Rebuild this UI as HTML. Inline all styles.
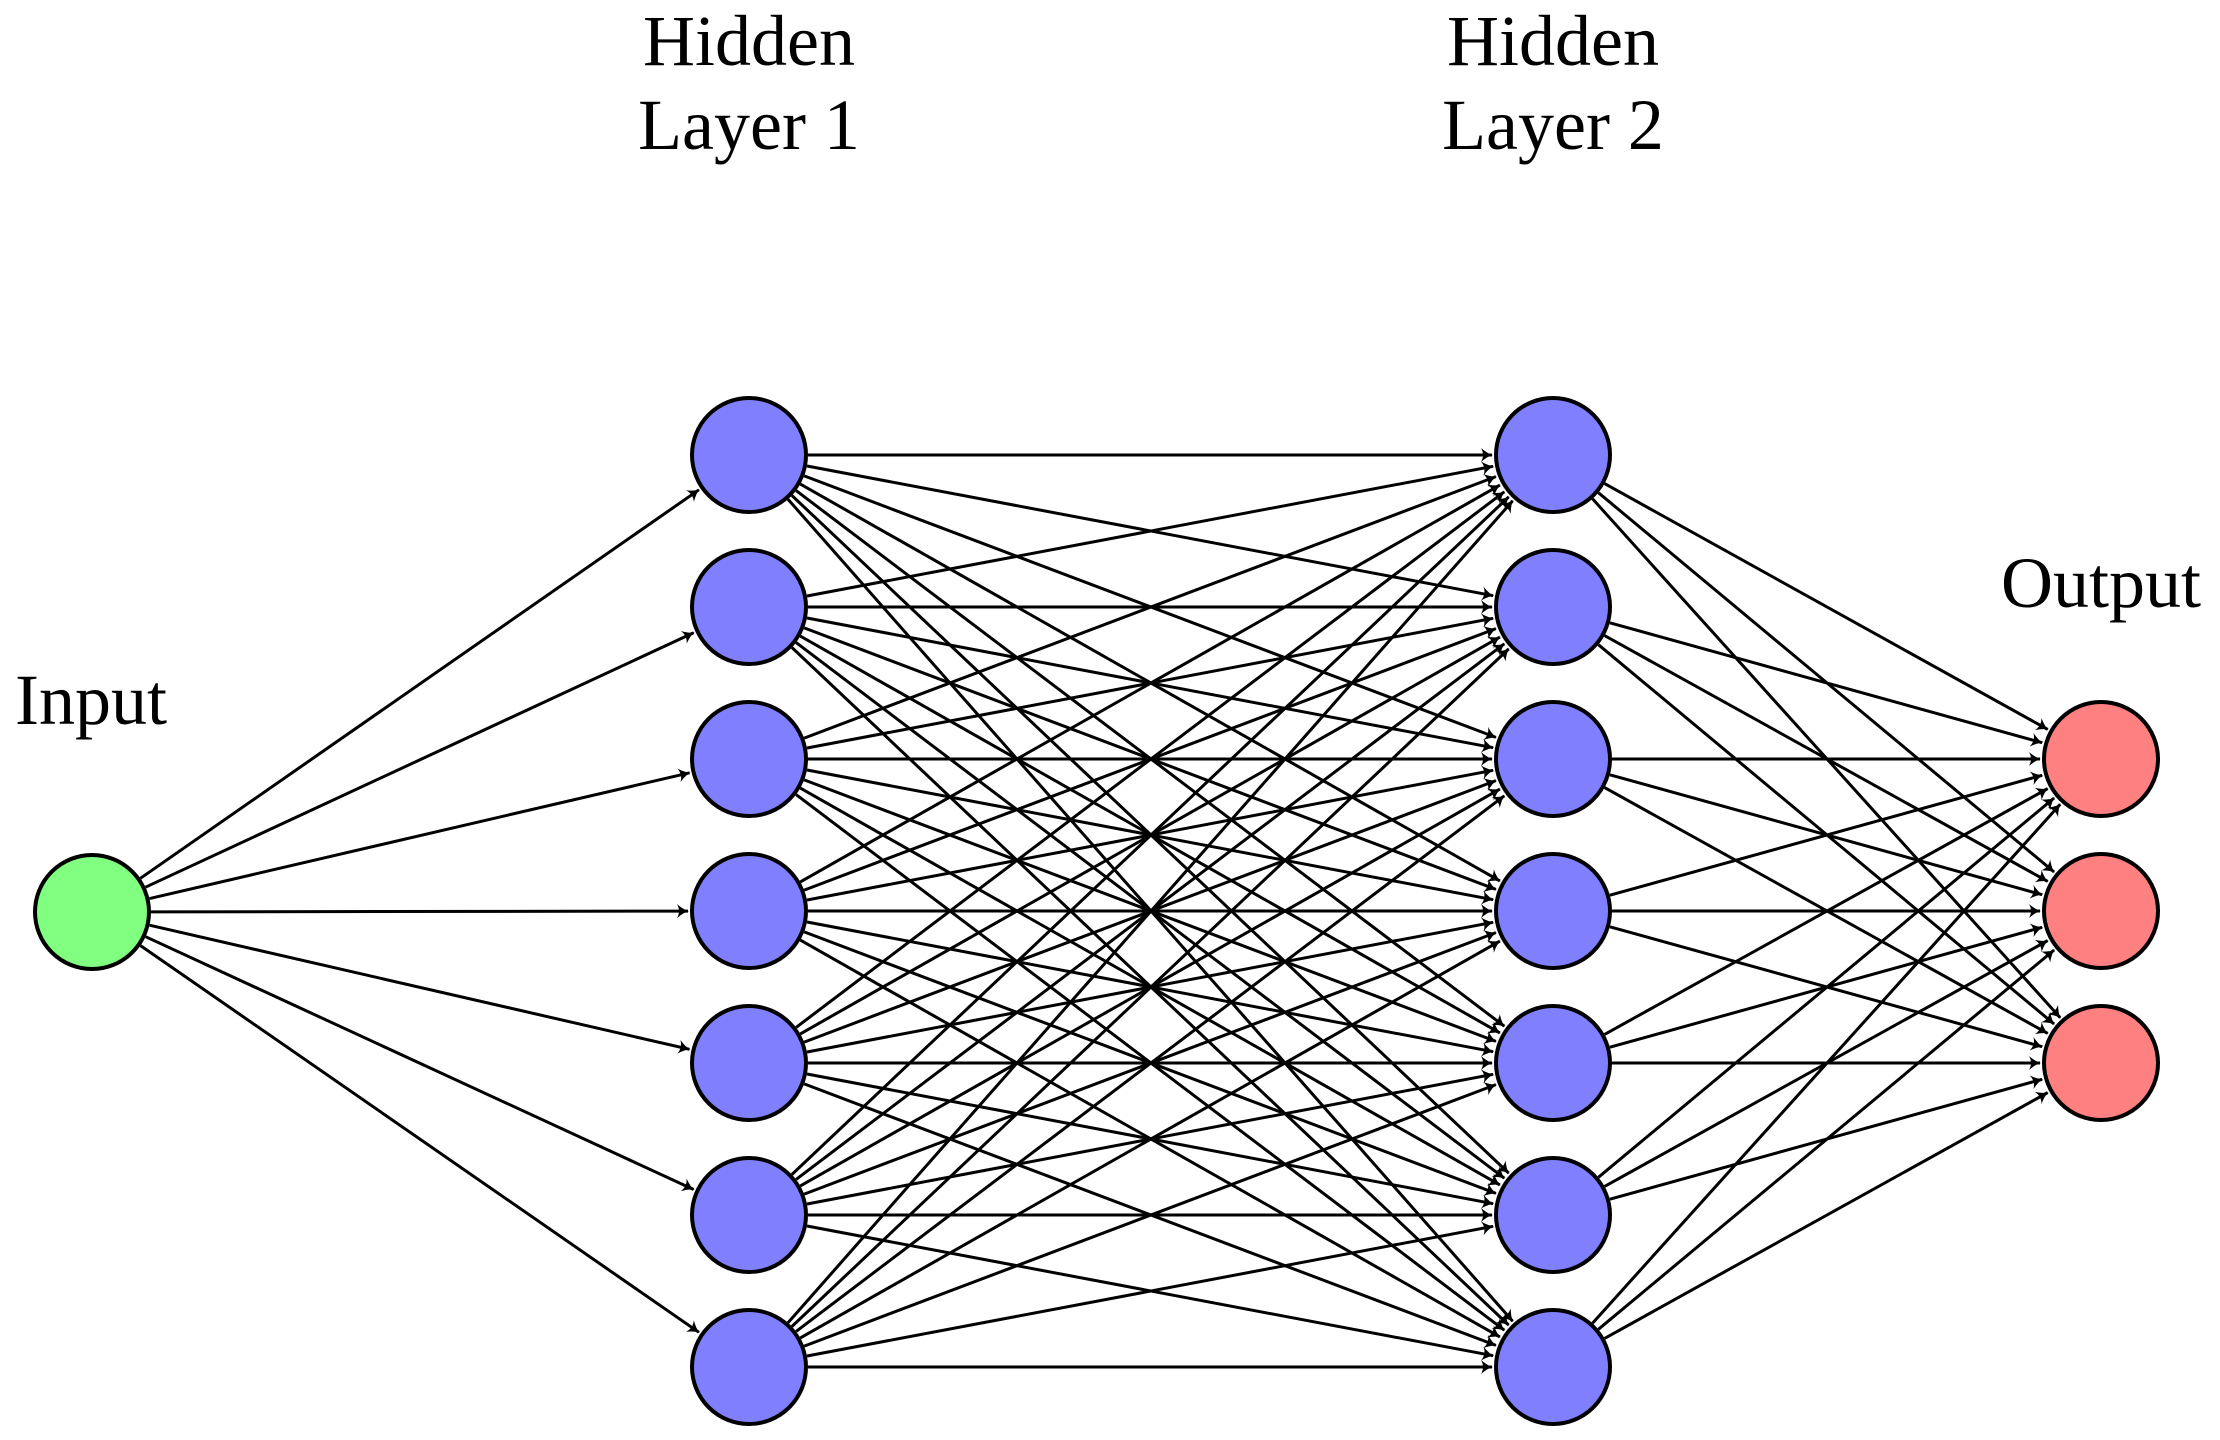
<!DOCTYPE html>
<html><head><meta charset="utf-8">
<style>
html,body{margin:0;padding:0;background:#fff;}
svg{display:block;}
text{font-family:"Liberation Serif",serif;font-size:72px;fill:#000;}
</style></head>
<body>
<svg id="s" width="2220" height="1440" viewBox="0 0 2220 1440" xmlns="http://www.w3.org/2000/svg">
<defs>
<marker id="a" viewBox="-12 -8 14 16" refX="0" refY="0" markerWidth="14" markerHeight="16" markerUnits="userSpaceOnUse" orient="auto">
<path d="M-11,-7 Q-4,-1 1,0 Q-4,1 -11,7 Q-7,0 -11,-7 Z" fill="#000"/>
</marker>
</defs>
<g id="edges" stroke="#000" stroke-width="3" fill="none"></g>
<g id="nodes" stroke="#000" stroke-width="4"></g>
<text x="749" y="65" text-anchor="middle">Hidden</text>
<text x="749" y="149" text-anchor="middle">Layer 1</text>
<text x="1553" y="65" text-anchor="middle">Hidden</text>
<text x="1553" y="149" text-anchor="middle">Layer 2</text>
<text x="91" y="724" text-anchor="middle">Input</text>
<text x="2101" y="607" text-anchor="middle">Output</text>
</svg>
<script>
var NS="http://www.w3.org/2000/svg";
var R=59;
var inp=[[92,912]];
var h1=[],h2=[],out=[];
for(var i=0;i<7;i++){h1.push([749,455+152*i]);h2.push([1553,455+152*i]);}
for(var i=0;i<3;i++){out.push([2101,759+152*i]);}
var E=document.getElementById('edges'),N=document.getElementById('nodes');
function conn(A,B){A.forEach(function(a){B.forEach(function(b){
var dx=b[0]-a[0],dy=b[1]-a[1],L=Math.sqrt(dx*dx+dy*dy),ux=dx/L,uy=dy/L;
var l=document.createElementNS(NS,'line');
l.setAttribute('x1',(a[0]+ux*R).toFixed(1));l.setAttribute('y1',(a[1]+uy*R).toFixed(1));
l.setAttribute('x2',(b[0]-ux*(R+2)).toFixed(1));l.setAttribute('y2',(b[1]-uy*(R+2)).toFixed(1));
l.setAttribute('marker-end','url(#a)');E.appendChild(l);});});}
conn(inp,h1);conn(h1,h2);conn(h2,out);
function nodes(A,c){A.forEach(function(p){var e=document.createElementNS(NS,'circle');
e.setAttribute('cx',p[0]);e.setAttribute('cy',p[1]);e.setAttribute('r',R-2);e.setAttribute('fill',c);N.appendChild(e);});}
nodes(inp,'#80ff80');nodes(h1,'#8080ff');nodes(h2,'#8080ff');nodes(out,'#ff8080');
</script>
</body></html>
